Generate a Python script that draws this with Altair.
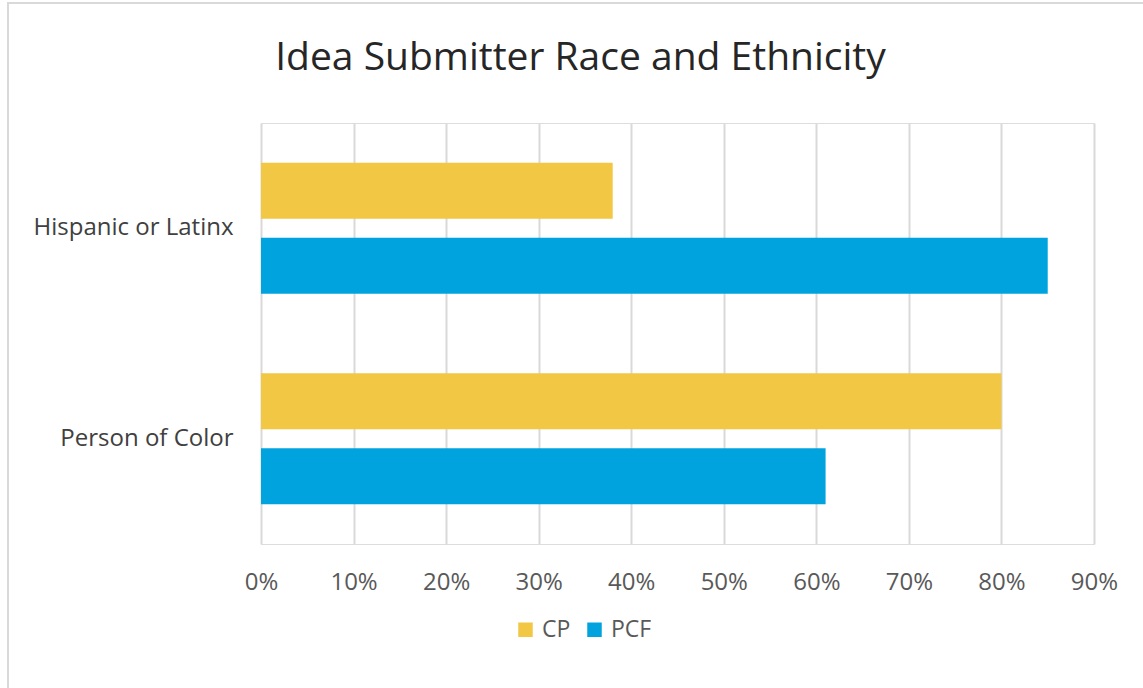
import altair as alt
import pandas as pd

categories = ["Hispanic or Latinx", "Hispanic or Latinx", "Person of Color", "Person of Color"]
series = ["CP", "PCF", "CP", "PCF"]
values = [0.38, 0.85, 0.80, 0.61]
cat_order = ["Hispanic or Latinx", "Person of Color"]
series_order = ["CP", "PCF"]
series_colors = ["#F2C744", "#00A3DE"]
tick_values = [0.0, 0.1, 0.2, 0.3, 0.4, 0.5, 0.6, 0.7, 0.8, 0.9]

df = pd.DataFrame({"category": categories, "series": series, "value": values})

FONT = "Open Sans"

bars = alt.Chart(df).mark_bar(size=56).encode(
    x=alt.X("value:Q",
            scale=alt.Scale(domain=[0, 0.9], nice=False),
            axis=alt.Axis(values=tick_values, format=".0%", title=None,
                          domain=False, ticks=False, grid=True,
                          gridColor="#D9D9D9", gridWidth=2,
                          labelFont=FONT, labelFontSize=24, labelColor="#595959",
                          labelPadding=26, labelFlush=False)),
    y=alt.Y("category:N", sort=cat_order,
            scale=alt.Scale(paddingInner=0.378, paddingOuter=0.189),
            axis=alt.Axis(title=None, domain=False, ticks=False, grid=False,
                          labelFont=FONT, labelFontSize=24, labelColor="#404040",
                          labelPadding=28, labelLimit=400)),
    yOffset=alt.YOffset("series:N", sort=series_order,
                        scale=alt.Scale(paddingInner=0.253, paddingOuter=0)),
    color=alt.Color("series:N", sort=series_order,
                    scale=alt.Scale(domain=series_order, range=series_colors),
                    legend=alt.Legend(title=None, orient="none", direction="horizontal",
                                      legendX=253, legendY=495,
                                      symbolType="square", symbolSize=210,
                                      symbolStrokeWidth=0,
                                      labelFont=FONT, labelFontSize=23,
                                      labelColor="#595959", labelOffset=5,
                                      columnPadding=12)),
)

border = alt.Chart(alt.Data(values=[{"a": 1}])).mark_rect(
    fill=None, stroke="#D9D9D9", strokeWidth=2
).encode(
    x=alt.value(-253), x2=alt.value(900),
    y=alt.value(-120), y2=alt.value(600),
)

chart = alt.layer(border, bars).properties(
    width=833,
    height=421,
    padding={"left": 261, "top": 123, "right": 49, "bottom": 144},
    autosize=alt.AutoSizeParams(type="none"),
    title=alt.TitleParams("Idea Submitter Race and Ethnicity", font=FONT,
                          fontSize=39, fontWeight="normal", color="#262626",
                          anchor="middle", frame="group", dx=-97,
                          baseline="alphabetic", offset=-107),
).configure_view(stroke=None).configure(background="white")

chart.save("out.html", embed_options={"renderer": "svg", "actions": False})
